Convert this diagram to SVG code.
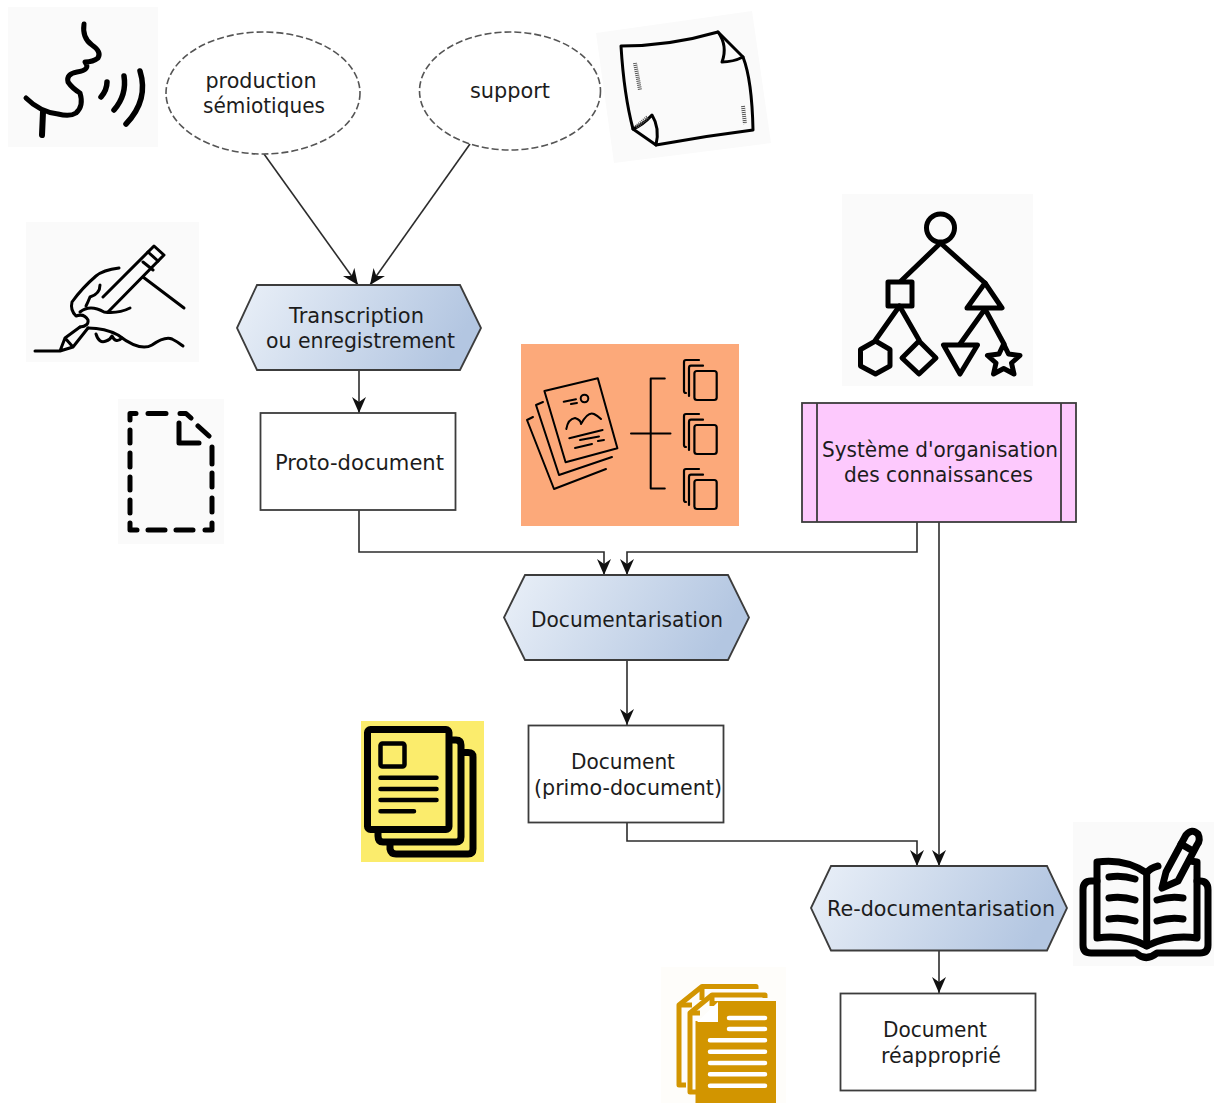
<svg xmlns="http://www.w3.org/2000/svg" width="1214" height="1103" viewBox="0 0 1214 1103">
<style>
text{font-family:"DejaVu Sans","Liberation Sans",sans-serif;font-size:21.500px;fill:#1c1c1c;text-anchor:middle}
.hex{fill:url(#g);stroke:#3c3c3c;stroke-width:1.8}
.box{fill:#fff;stroke:#3c3c3c;stroke-width:1.8}
.ell{fill:#fff;stroke:#555;stroke-width:1.6;stroke-dasharray:7 3}
.c{fill:none;stroke:#2c2c2c;stroke-width:1.6}
.a{marker-end:url(#ar)}
.i{fill:none;stroke:#000;stroke-linecap:round;stroke-linejoin:round}
</style>
<defs>
<linearGradient id="g" x1="0" y1="0" x2="1" y2="0.2"><stop offset="0" stop-color="#eaf0f8"/><stop offset="1" stop-color="#b3c6e1"/></linearGradient>
<marker id="ar" markerUnits="userSpaceOnUse" markerWidth="18" markerHeight="16" refX="16" refY="7.500" orient="auto"><path d="M16,7.500 L0,0.500 L5,7.500 L0,14.500 Z" fill="#111"/></marker>
<g id="stk"><path d="M699,360 H686 Q684,360 684,362 V391 Q684,393 686,393 M703,365.700 H691 Q689,365.700 689,368 V396" class="i" stroke-width="2.200"/><rect x="694.400" y="371" width="22.300" height="29" rx="2.500" class="i" stroke-width="2.200"/></g>
</defs>
<rect width="1214" height="1103" fill="#fff"/>

<g id="connectors">
<path class="c a" d="M264,154 L358,285"/>
<path class="c a" d="M470,144 L370,285"/>
<path class="c a" d="M359,370 V413"/>
<path class="c a" d="M359,510 V552 H604 V575"/>
<path class="c a" d="M917,522 V552 H627 V575"/>
<path class="c a" d="M939,522 V866"/>
<path class="c a" d="M627,660 V725"/>
<path class="c a" d="M627,823 V841 H917 V866"/>
<path class="c a" d="M939,950 V993"/>
</g>

<g id="node-production"><ellipse class="ell" cx="263" cy="93" rx="97" ry="61"/><text x="261" y="88" textLength="111" lengthAdjust="spacingAndGlyphs">production</text><text x="264" y="113" textLength="122" lengthAdjust="spacingAndGlyphs">sémiotiques</text></g>
<g id="node-support"><ellipse class="ell" cx="510" cy="91" rx="90.500" ry="59"/><text x="510" y="98" textLength="80" lengthAdjust="spacingAndGlyphs">support</text></g>
<g id="node-transcription"><polygon class="hex" points="237,328 257,285 460,285 481,328 460,370 257,370"/><text x="356.500" y="323" textLength="135" lengthAdjust="spacingAndGlyphs">Transcription</text><text x="360.500" y="348" textLength="189" lengthAdjust="spacingAndGlyphs">ou enregistrement</text></g>
<g id="node-proto"><rect class="box" x="260.500" y="413" width="195" height="97"/><text x="359.500" y="470" textLength="169" lengthAdjust="spacingAndGlyphs">Proto-document</text></g>
<g id="node-soc"><rect x="802" y="403" width="274" height="119" fill="#fdc9fd" stroke="#3c3c3c" stroke-width="1.800"/><path d="M817,403 V522 M1061,403 V522" stroke="#3c3c3c" stroke-width="1.800"/><text x="940" y="457" textLength="236" lengthAdjust="spacingAndGlyphs">Système d'organisation</text><text x="938.500" y="482" textLength="189" lengthAdjust="spacingAndGlyphs">des connaissances</text></g>
<g id="node-documentarisation"><polygon class="hex" points="504,617.500 525,575 728,575 749,617.500 728,660 525,660"/><text x="627" y="627" textLength="192" lengthAdjust="spacingAndGlyphs">Documentarisation</text></g>
<g id="node-document"><rect class="box" x="528.500" y="725.500" width="195" height="97"/><text x="623" y="769" textLength="104" lengthAdjust="spacingAndGlyphs">Document</text><text x="628" y="795" textLength="188" lengthAdjust="spacingAndGlyphs">(primo-document)</text></g>
<g id="node-redoc"><polygon class="hex" points="811,908 831,866 1047,866 1067,908 1047,950.500 831,950.500"/><text x="941" y="916" textLength="228" lengthAdjust="spacingAndGlyphs">Re-documentarisation</text></g>
<g id="node-reappropriated"><rect class="box" x="840.500" y="993.500" width="195" height="97"/><text x="935" y="1037" textLength="104" lengthAdjust="spacingAndGlyphs">Document</text><text x="941" y="1063" textLength="120" lengthAdjust="spacingAndGlyphs">réapproprié</text></g>

<g id="icon-speech">
<rect x="8" y="7" width="150" height="140" fill="#fafafa"/>
<path class="i" stroke-width="5" d="M84,24 Q82,38 92,45 Q102,52 98,58 Q93,62 85,62 Q91,70 77,72 Q66,74 68,82 Q72,88 80,93 Q84,106 76,113 Q70,117 58,114 Q40,112 26,98"/>
<path class="i" stroke-width="6" d="M43,112 L42,135"/>
<path class="i" stroke-width="5.500" d="M107,82 Q107,90 101,97"/>
<path class="i" stroke-width="5.500" d="M124,76 Q127,95 114,110"/>
<path class="i" stroke-width="5.500" d="M140,71 Q149,100 126,124"/>
</g>

<g id="icon-paper">
<polygon points="596,33 752,11 771,143 614,163" fill="#fafafa"/>
<path class="i" stroke-width="3" d="M621,46 Q670,46 718,32 L743,57 Q752,80 753,130 Q705,136 656,145 L633,129 Q624,95 621,46 Z"/>
<path class="i" stroke-width="3" d="M718,32 Q728,46 722,62 Q733,62 743,57 M633,129 Q643,125 652,115 Q660,128 656,145"/>
<path stroke="#555" stroke-width="4" stroke-dasharray="1 1" fill="none" d="M635,63 L640,90 M743,106 L745,124 M636,127 L648,117"/>
</g>

<g id="icon-writing">
<rect x="26" y="222" width="173" height="140" fill="#fafafa"/>
<g class="i" stroke-width="3">
<path d="M103,297 L154,246 L164,255 L108,312"/>
<path d="M143,262 L153,270 M148,252 L158,261"/>
<path d="M143,277 L184,308"/>
<path d="M119,268 Q103,270 96,276 Q82,288 72,302 Q70,310 76,316 Q84,313 88,320 Q89,326 80,327"/>
<path d="M130,308 Q118,314 104,312 Q90,304 80,312"/>
<path d="M100,285 Q100,294 90,297 Q88,302 86,306"/>
<path d="M35,351 H60 L65,338 L80,327 M65,338 L73,347 L60,351 M73,347 L88,328"/>
<path d="M88,328 Q105,328 118,335 Q140,352 152,345 Q165,336 172,339 Q178,342 183,346"/>
<path d="M96,334 Q99,344 106,341 Q110,340 112,336 Q116,344 122,338"/>
</g>
</g>

<g id="icon-blank-document">
<rect x="118" y="399" width="106" height="145" fill="#fafafa"/>
<path class="i" stroke-width="5" d="M130,420 V413.500 H136 M148,413.500 H166 M180,413.500 H186 L191,418 M198,426 L209,436 M212,447 V464 M212,473 V487 M212,498 V512 M212,523 V530 H205 M193,530 H176 M165,530 H148 M137,530 H130 V523 M130,513 V500 M130,490 V477 M130,467 V453 M130,443 V430"/>
<path class="i" stroke-width="5" d="M179,423 V443 H199"/>
</g>

<g id="icon-classification">
<rect x="521" y="344" width="218" height="182" fill="#fca97a"/>
<g class="i" stroke-width="2">
<path d="M544.400,391 L597.800,378.300 L617.400,448.300 L565.600,462.300 Z"/>
<path d="M543,402 L536,405 L559,475 L612,457"/>
<path d="M533,417 L527,420 L554,489 L606,469"/>
<circle cx="584.500" cy="398.500" r="3.800"/>
<path d="M563.700,401.700 L576,399.300 M571,404 L577,403"/>
<path d="M566.300,429 Q568,419 575,418 Q581,420 581,424 Q588,411 594,414 Q598,416 601,419"/>
<path d="M569.300,438.300 L602.600,430 M580,440 L599,436.500 M598,441 L604,440 M575,448 L592,444"/>
<path d="M631,433.500 H670.500 M664.800,378.500 H650.700 V488.500 H664.800"/>
</g>
<use href="#stk"/><use href="#stk" y="54"/><use href="#stk" y="109"/>
</g>

<g id="icon-tree">
<rect x="842" y="194" width="191" height="192" fill="#fafafa"/>
<g class="i" stroke-width="5">
<circle cx="940.500" cy="228" r="14"/>
<path d="M940.500,243 L901,281 M940.500,243 L985,283"/>
<rect x="888" y="282" width="24" height="24"/>
<path d="M985,283 L1002,308 H967 Z"/>
<path d="M899.500,306 L875.500,340 M899.500,306 L919,340 M985,309 L960,344 M985,309 L1004,344"/>
<path d="M875.500,341 L890,349.500 V366 L875.500,374 L860.500,366 V349.500 Z"/>
<path d="M919,341 L936,358 L919,374 L902,358 Z"/>
<path d="M943.500,345 H977.500 L960,374 Z"/>
<path d="M1003.700,344 L1008.500,354 L1020,355.500 L1011.500,363 L1014,374 L1003.700,368.500 L993.500,374 L996,363 L987.500,355.500 L999,354 Z"/>
</g>
</g>

<g id="icon-documents-yellow">
<rect x="361" y="721" width="123" height="141" fill="#fbec6c"/>
<g class="i" stroke-width="7">
<rect x="367.500" y="729.500" width="81.500" height="100" rx="3"/>
<path d="M451,740 H456 Q461,740 461,745 V837 Q461,842 456,842 H383 Q378,842 378,836 V832"/>
<path d="M464,752.500 H468 Q473,752.500 473,757 V849 Q473,854 468,854 H396 Q391,854 390,849 V845"/>
</g>
<g class="i" stroke-width="4.500">
<rect x="380.500" y="743.500" width="24" height="23" rx="2"/>
<path d="M380.500,777.700 H436.500 M380.500,789 H436.500 M380.500,800 H436.500 M380.500,811.300 H414"/>
</g>
</g>

<g id="icon-documents-ochre">
<rect x="661" y="967" width="125" height="136" fill="#fefdfa"/>
<g fill="none" stroke="#d29500" stroke-width="5" stroke-linejoin="round">
<path d="M756,989 V986.500 H702 L679,1005 V1085 H686"/>
<path d="M679,1005 H692 M702,986.500 V1000"/>
<path d="M765,998 V995 H712 L690,1013 V1092 H696"/>
<path d="M690,1013 H700 M712,995 V1006"/>
</g>
<path d="M714,1001 H776 V1103 H695.500 V1021 L714,1021 Z" fill="#d29500"/>
<g fill="none" stroke="#fff" stroke-width="4.500" stroke-linecap="round">
<path d="M729,1018 H765 M729,1029 H765 M710,1040.300 H765 M710,1051.700 H765 M710,1063 H765 M710,1074.300 H765 M710,1085.700 H765"/>
</g>
<path d="M718,1002 V1022 H697 Z" fill="#fff"/>
</g>

<g id="icon-book">
<rect x="1073" y="822" width="141" height="144" fill="#fafafa"/>
<g class="i" stroke-width="7">
<path d="M1146.700,873 Q1125,858 1097,862 V938 Q1125,934 1146.700,946 Q1170,934 1197,938 V862 L1190,861"/>
<path d="M1146.700,873 V946 M1146.700,873 Q1150,868 1158,866"/>
<path d="M1097,881 H1091 Q1083,881 1083,890 V945 Q1083,953 1091,953 H1136 Q1146,962 1157,953 H1200 Q1208,953 1208,945 V890 Q1208,881 1200,881 H1197"/>
<path d="M1109,877 Q1122,875 1135,879 M1109,898 Q1122,896 1135,900 M1109,919 Q1122,917 1135,921 M1157,900 Q1170,896 1183,898 M1157,921 Q1170,917 1183,919"/>
<path d="M1162,888 L1166,872 L1186,835 Q1192,828 1198,834 Q1201,840 1197,845 L1178,881 Z"/>
<path d="M1181,844 L1193,851"/>
</g>
</g>
</svg>
